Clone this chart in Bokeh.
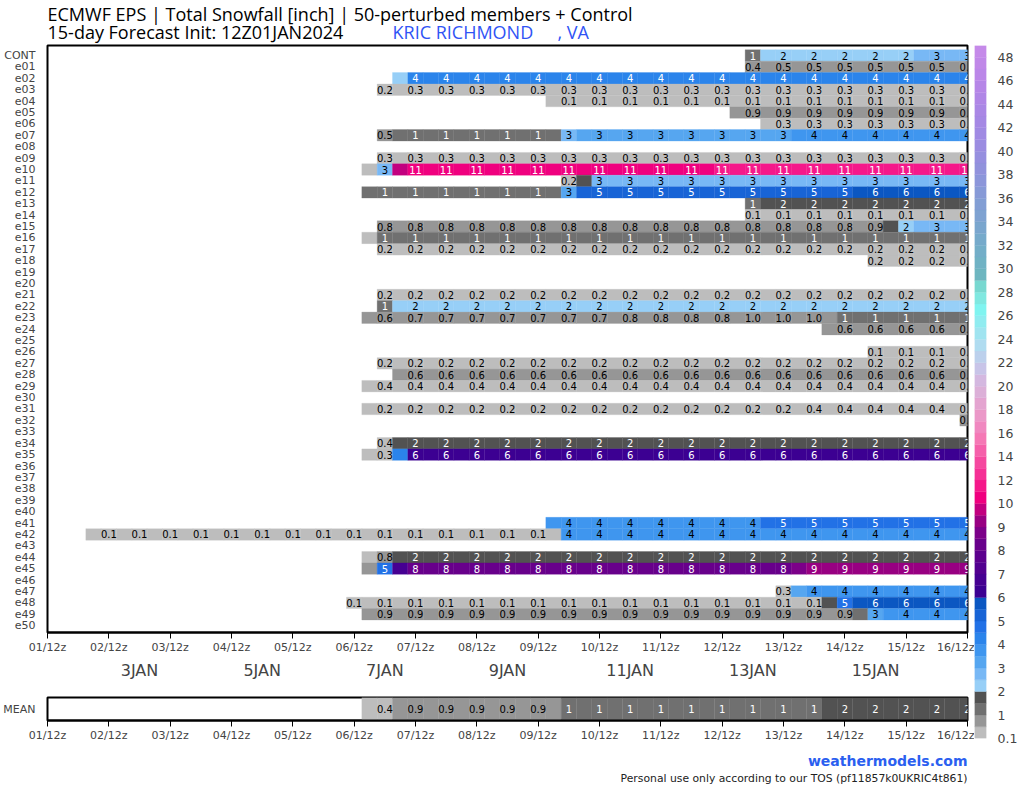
import numpy as np
from bokeh.plotting import figure
from bokeh.models import Range1d, ColumnDataSource, FixedTicker, LinearAxis
from bokeh.layouts import row, column
from bokeh.embed import file_html
from bokeh.resources import INLINE
from bokeh.core.properties import value

ROW_NAMES = ["CONT"] + ["e%02d" % i for i in range(1, 51)]

# accumulated snowfall [inch] per member as runs: (first step, last step, value)
# step = 6-hour step from 01/12z (0) to 16/12z (60)
SNOW = {
    "CONT": [(46, 46, 1.2), (47, 56, 2.2), (57, 60, 2.8)],
    "e01": [(46, 46, 0.42), (47, 60, 0.5)],
    "e02": [(23, 23, 2.2), (24, 60, 4.2)],
    "e03": [(22, 22, 0.2), (23, 60, 0.3)],
    "e04": [(33, 60, 0.1)],
    "e05": [(45, 60, 0.9)],
    "e06": [(47, 60, 0.3)],
    "e07": [(22, 22, 0.5), (23, 33, 1.2), (34, 34, 2.8), (35, 48, 3.2), (49, 60, 3.8)],
    "e09": [(22, 60, 0.3)],
    "e10": [(21, 21, 0.2), (22, 22, 2.8), (23, 23, 9.8), (24, 43, 10.8), (44, 60, 11.2)],
    "e11": [(34, 34, 0.2), (35, 35, 1.8), (36, 60, 2.8)],
    "e12": [(21, 33, 1.2), (34, 34, 3.2), (35, 52, 5.2), (53, 60, 5.8)],
    "e13": [(46, 46, 1.2), (47, 60, 1.8)],
    "e14": [(46, 60, 0.1)],
    "e15": [(22, 52, 0.8), (53, 54, 0.9), (55, 55, 1.8), (56, 56, 2.2), (57, 60, 2.8)],
    "e16": [(21, 21, 0.3), (22, 60, 1.2)],
    "e17": [(22, 60, 0.2)],
    "e18": [(54, 60, 0.2)],
    "e21": [(22, 60, 0.2)],
    "e22": [(22, 22, 1.2), (23, 60, 2.2)],
    "e23": [(21, 21, 0.5), (22, 23, 0.6), (24, 37, 0.7), (38, 45, 0.8), (46, 51, 0.97), (52, 60, 1.2)],
    "e24": [(51, 60, 0.6)],
    "e26": [(54, 60, 0.1)],
    "e27": [(22, 60, 0.2)],
    "e28": [(23, 60, 0.6)],
    "e29": [(21, 60, 0.38)],
    "e31": [(21, 48, 0.2), (49, 60, 0.38)],
    "e32": [(60, 60, 0.9)],
    "e34": [(22, 22, 0.38), (23, 60, 1.8)],
    "e35": [(21, 22, 0.3), (23, 23, 4.2), (24, 60, 6.2)],
    "e41": [(33, 46, 3.8), (47, 60, 4.8)],
    "e42": [(3, 33, 0.1), (34, 60, 3.8)],
    "e44": [(21, 21, 0.3), (22, 22, 0.8), (23, 60, 1.8)],
    "e45": [(21, 21, 0.6), (22, 22, 4.8), (23, 23, 6.8), (24, 48, 8.2), (49, 49, 8.7), (50, 60, 9.2)],
    "e47": [(48, 48, 0.3), (49, 49, 3.2), (50, 60, 3.8)],
    "e48": [(20, 50, 0.1), (51, 51, 1.8), (52, 52, 4.8), (53, 60, 5.8)],
    "e49": [(21, 52, 0.9), (53, 53, 1.2), (54, 54, 3.2), (55, 60, 3.8)],
}
MEAN = [(21, 21, 0.3), (22, 22, 0.38), (23, 33, 0.9), (34, 50, 1.2), (51, 60, 1.8)]

TICK_STEPS = list(range(0, 61, 4))
TICK_LABELS = ["%02d/12z" % d for d in range(1, 17)]
DAY_STEPS = [6, 14, 22, 30, 38, 46, 54]
DAY_LABELS = ["3JAN", "5JAN", "7JAN", "9JAN", "11JAN", "13JAN", "15JAN"]

TITLE_1 = "ECMWF EPS | Total Snowfall [inch] | 50-perturbed members + Control"
TITLE_2 = "15-day Forecast Init: 12Z01JAN2024"
STATION = "KRIC RICHMOND"
STATE = ", VA"
SITE = "weathermodels.com"
NOTE = "Personal use only according to our TOS (pf11857k0UKRIC4t861)"

LEVELS = [0.1, 0.4, 1, 1.5, 2, 2.5, 3, 3.5, 4, 4.5, 5, 5.5, 6, 6.5, 7, 7.5, 8, 8.5, 9, 9.5, 10,
          11, 12, 13, 14, 15, 16, 17, 18, 19, 20, 21, 22, 23, 24, 25, 26, 27, 28, 29, 30,
          31, 32, 33, 34, 35, 36, 37, 38, 39, 40, 41, 42, 43, 44, 45, 46, 47, 48, 49]
LEVEL_COLORS = ["#bdbdbd", "#969696", "#707070", "#525252",
                "#97cff7", "#78b8f5", "#56a6f0", "#3f96ef", "#2b84eb", "#2271e6", "#1864d6", "#0b57c2",
                "#3c0092", "#460092", "#520090", "#5c008e", "#68008b", "#7c0089", "#980082", "#c2007f",
                "#f0007f", "#f5188a", "#f53095", "#f5489f", "#f560aa", "#f578b5", "#f088c0", "#eb98c8",
                "#e4a4d0", "#dcb0d8", "#d4b8e0", "#c8c4e8", "#bcd0ec", "#b0dcf0", "#a0e4f0", "#90ecf0",
                "#80f4f0", "#80e8e0", "#78d8d0",
                "#6eb6c0", "#70b2c4", "#73aec8", "#76aacb", "#7aa6ce", "#7ea2d1", "#829ed4", "#879ad7",
                "#8c96da", "#9192dc", "#968fdf", "#9b8ce1", "#a08ae3", "#a588e4", "#aa87e5", "#b086e6",
                "#b686e7", "#bb87e8", "#c088e8", "#c58ae9"]
CBAR_LABELS = ["0.1", "1", "2", "3", "4", "5", "6", "7", "8", "9", "10", "12", "14", "16", "18",
               "20", "22", "24", "26", "28", "30", "32", "34", "36", "38", "40", "42", "44", "46", "48"]

FONT = "DejaVu Sans"
TFONT = "Open Sans"


def bin_of(v):
    for i in range(len(LEVELS) - 1):
        if LEVELS[i] <= v < LEVELS[i + 1]:
            return i
    return len(LEVELS) - 2


def fmt(v):
    return "%.1f" % v if v < 1 else str(int(round(v)))


def txt_color(b):
    return "white" if (b in (2, 3) or b >= 8) else "black"


def build(runs, yrow):
    cx, cy, cc = [], [], []
    lx, ly, lt, lc = [], [], [], []
    for (a, b, v) in runs:
        for t in range(a, b + 1):
            k = bin_of(v)
            cx.append(t); cy.append(yrow); cc.append(LEVEL_COLORS[k])
            if t % 2 == 0:
                lx.append(t); ly.append(yrow); lt.append(fmt(v)); lc.append(txt_color(k))
    return (cx, cy, cc), (lx, ly, lt, lc)


def plain(fig):
    fig.xgrid.visible = False
    fig.ygrid.visible = False


def style_time_axis(ax):
    ax.ticker = FixedTicker(ticks=TICK_STEPS)
    ax.major_label_overrides = {t: l for t, l in zip(TICK_STEPS, TICK_LABELS)}
    ax.axis_line_width = 2
    ax.major_tick_out = 6
    ax.major_tick_in = 0
    ax.minor_tick_line_color = None
    ax.major_label_standoff = 2
    ax.major_label_text_font = FONT
    ax.major_label_text_font_size = "11px"


def style_name_axis(ax, ticks, names):
    ax.ticker = FixedTicker(ticks=ticks)
    ax.major_label_overrides = {t: n for t, n in zip(ticks, names)}
    ax.axis_line_color = None
    ax.major_tick_line_color = None
    ax.minor_tick_line_color = None
    ax.major_label_standoff = 6
    ax.major_label_text_font = FONT
    ax.major_label_text_font_size = "11px"


CX, CY, CC, LX, LY, LT, LC = [], [], [], [], [], [], []
for i, name in enumerate(ROW_NAMES):
    (a, b, c), (d, e, f, g) = build(SNOW.get(name, []), i)
    CX += a; CY += b; CC += c; LX += d; LY += e; LT += f; LC += g

xr = Range1d(0, 60)
W_LEFT = 974
BL, BR = 47, 7          # every left-column figure shares the same frame: x 47..967
TOTAL_H = 786

# header with the titles (its frame spans page x 47..967, y 0..44)
head = figure(width=W_LEFT, height=44, x_range=Range1d(47, 967), y_range=Range1d(44, 0),
              output_backend="svg", toolbar_location=None, x_axis_location=None, y_axis_location=None,
              min_border_left=BL, min_border_right=BR, min_border_top=0, min_border_bottom=0)
head.outline_line_color = None
plain(head)
head.text(x=[47, 47, 392, 557], y=[13, 31, 31, 31], text=[TITLE_1, TITLE_2, STATION, STATE],
          text_color=["black", "black", "#2f54f5", "#2f54f5"], text_baseline="middle",
          text_font=value(TFONT), text_font_size="18px")

# main member grid
main = figure(width=W_LEFT, height=646, x_range=xr, y_range=Range1d(50.6, -0.877),
              output_backend="svg", toolbar_location=None,
              min_border_left=BL, min_border_right=BR, min_border_top=1, min_border_bottom=58)
plain(main)
main.outline_line_color = "black"
main.outline_line_width = 2

cells = ColumnDataSource(dict(x=CX, y=CY, c=CC))
main.rect(x="x", y="y", width=1, height=1, fill_color="c", line_color="c", line_width=0.3, source=cells)
labs = ColumnDataSource(dict(x=LX, y=LY, t=LT, c=LC))
main.text(x="x", y="y", text="t", text_color="c", text_align="center", text_baseline="middle",
          text_font=value(FONT), text_font_size="10px", source=labs)
style_time_axis(main.xaxis[0])
style_name_axis(main.yaxis[0], list(range(51)), ROW_NAMES)

dax = LinearAxis(ticker=FixedTicker(ticks=DAY_STEPS),
                 major_label_overrides={t: l for t, l in zip(DAY_STEPS, DAY_LABELS)},
                 axis_line_color=None, major_tick_line_color=None, minor_tick_line_color=None,
                 major_label_standoff=-2, major_label_text_font=FONT, major_label_text_font_size="16px")
main.add_layout(dax, "below")

# mean row
mean = figure(width=W_LEFT, height=55, x_range=xr, y_range=Range1d(0, 1),
              output_backend="svg", toolbar_location=None,
              min_border_left=BL, min_border_right=BR, min_border_top=7, min_border_bottom=25)
plain(mean)
mean.outline_line_color = "black"
mean.outline_line_width = 2
(a, b, c), (d, e, f, g) = build(MEAN, 0.5)
mean.rect(x="x", y="y", width=1, height=1, fill_color="c", line_color="c", line_width=0.3,
          source=ColumnDataSource(dict(x=a, y=b, c=c)))
mean.text(x="x", y="y", text="t", text_color="c", text_align="center", text_baseline="middle",
          text_font=value(FONT), text_font_size="10px",
          source=ColumnDataSource(dict(x=d, y=e, t=f, c=g)))
style_time_axis(mean.xaxis[0])
style_name_axis(mean.yaxis[0], [0.5], ["MEAN"])

# footer (frame spans page x 47..967)
FOOT_H = TOTAL_H - 44 - 646 - 55
foot = figure(width=W_LEFT, height=FOOT_H, x_range=Range1d(47, 967), y_range=Range1d(FOOT_H, 0),
              output_backend="svg", toolbar_location=None, x_axis_location=None, y_axis_location=None,
              min_border_left=BL, min_border_right=BR, min_border_top=0, min_border_bottom=0)
foot.outline_line_color = None
plain(foot)
foot.text(x=[967], y=[15], text=[SITE], text_align="right", text_baseline="middle",
          text_font=value(FONT), text_font_size="14px", text_font_style="bold", text_color="#2b5ff0")
foot.text(x=[967], y=[33], text=[NOTE], text_align="right", text_baseline="middle",
          text_font=value(FONT), text_font_size="10.8px", text_color="#222222")

# colour bar (frame page x 974..992, y 45..738)
cb = figure(width=46, height=TOTAL_H, x_range=Range1d(0, 1), y_range=Range1d(0, 29.5),
            output_backend="svg", toolbar_location=None, x_axis_location=None, y_axis_location="right",
            min_border_left=0, min_border_right=28, min_border_top=45, min_border_bottom=TOTAL_H - 738)
cb.outline_line_color = None
plain(cb)
nb = len(LEVEL_COLORS)
cb.quad(left=[0] * nb, right=[1] * nb, bottom=[i * 0.5 for i in range(nb)],
        top=[(i + 1) * 0.5 for i in range(nb)], fill_color=LEVEL_COLORS, line_color=LEVEL_COLORS,
        line_width=0.3)
ca = cb.yaxis[0]
ca.ticker = FixedTicker(ticks=list(range(len(CBAR_LABELS))))
ca.major_label_overrides = {i: l for i, l in enumerate(CBAR_LABELS)}
ca.axis_line_color = None
ca.major_tick_line_color = None
ca.minor_tick_line_color = None
ca.major_label_standoff = 5
ca.major_label_text_font = FONT
ca.major_label_text_font_size = "12.5px"

layout = row(column(head, main, mean, foot), cb)
open("out.html", "w").write(file_html(layout, INLINE))
